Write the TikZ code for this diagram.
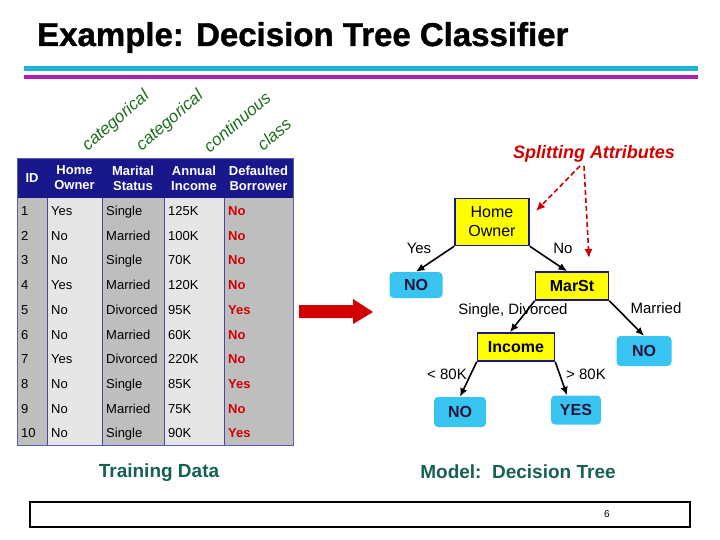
\documentclass[tikz,border=0pt]{standalone}
\usepackage{fontspec}
\setmainfont{Liberation Sans}
\newfontfamily\titlefont[FakeBold=1.2]{Liberation Sans}
\usetikzlibrary{arrows.meta,calc}
\definecolor{DTnavy}{RGB}{24,24,140}
\definecolor{DTcyan}{RGB}{56,196,240}
\definecolor{DTyellow}{RGB}{255,255,0}
\definecolor{DTred}{RGB}{210,0,0}
\definecolor{DTgreen}{RGB}{26,110,26}
\definecolor{DTteal}{RGB}{22,96,84}
\definecolor{DTgray}{RGB}{190,190,190}
\definecolor{DTlight}{RGB}{230,230,230}
\definecolor{DTline}{RGB}{32,180,214}
\definecolor{DTmag}{RGB}{176,30,176}
\definecolor{DTleaf}{RGB}{40,20,60}
\tikzset{
  attr/.style={rectangle,draw=DTnavy,line width=1.6pt,fill=DTyellow,align=center,
               inner sep=2pt,font=\fontsize{16}{19}\selectfont,minimum height=28pt},
  leaf/.style={rounded corners=4pt,fill=DTcyan,text=DTleaf,inner sep=2pt,
               font=\bfseries\fontsize{16}{16}\selectfont,minimum width=53pt,minimum height=29pt},
  br/.style={font=\fontsize{15}{15}\selectfont,inner sep=1pt},
  ed/.style={-{Latex[length=8.5pt,width=7.5pt]},line width=1.6pt},
  spl/.style={-{Latex[length=9pt,width=8pt]},line width=1.6pt,draw=DTred,dash pattern=on 5pt off 3pt},
  kind/.style={font=\itshape\fontsize{17}{17}\selectfont,text=DTgreen,rotate=41,inner sep=0pt},
  cell/.style={anchor=base west,font=\fontsize{13}{13}\selectfont,inner sep=0pt},
  hcell/.style={font=\bfseries\fontsize{13}{15}\selectfont,text=white,align=center,inner sep=0pt},
  caption/.style={font=\bfseries\fontsize{19}{19}\selectfont,text=DTteal}
}
\begin{document}
\begin{tikzpicture}[x=1pt,y=-1pt]
  \useasboundingbox (0,0) rectangle (720,540);
  \node[anchor=base west,inner sep=0pt,font=\titlefont\bfseries\fontsize{33}{33}\selectfont] (title) at (37,46) {Example: Decision Tree Classifier};
  \draw[DTline,line width=5pt] (24,68.5) -- (698,68.5);
  \draw[DTmag,line width=4pt] (24,77) -- (698,77);

  \node[kind] (k1) at (116,121) {categorical};
  \node[kind] (k2) at (170,121) {categorical};
  \node[kind] (k3) at (237,122) {continuous};
  \node[kind] (k4) at (274,134) {class};

  % training table
  \fill[DTgray] (17,198) rectangle (47,445);
  \fill[DTlight] (47,198) rectangle (102,445);
  \fill[DTgray] (102,198) rectangle (164,445);
  \fill[DTlight] (164,198) rectangle (224,445);
  \fill[DTgray] (224,198) rectangle (293,445);
  \fill[DTnavy] (17,158) rectangle (293,198);
  \foreach \x in {47,102,164,224}
    \draw[DTnavy!80,line width=0.8pt] (\x,198) -- (\x,445);
  \draw[DTnavy!70,line width=0.8pt] (17,158) rectangle (293,445);
  \node[hcell] (hid) at (32,178) {ID};
  \node[hcell] (hho) at (74.5,178) {Home\\Owner};
  \node[hcell] (hms) at (133,178) {Marital\\Status};
  \node[hcell] (hinc) at (194,178) {Annual\\Income};
  \node[hcell] (hcl) at (258.5,178) {Defaulted\\Borrower};
  \foreach \i/\ho/\ms/\inc/\cl in {1/Yes/Single/125K/No,2/No/Married/100K/No,3/No/Single/70K/No,
      4/Yes/Married/120K/No,5/No/Divorced/95K/Yes,6/No/Married/60K/No,7/Yes/Divorced/220K/No,
      8/No/Single/85K/Yes,9/No/Married/75K/No,10/No/Single/90K/Yes}{
    \pgfmathsetmacro{\ry}{215.5+(\i-1)*24.7}
    \node[cell] (id\i) at (21,\ry) {\i};
    \node[cell] (ho\i) at (51,\ry) {\ho};
    \node[cell] (ms\i) at (106,\ry) {\ms};
    \node[cell] (inc\i) at (168,\ry) {\inc};
    \node[cell,text=DTred,font=\bfseries\fontsize{13}{13}\selectfont] (cl\i) at (228,\ry) {\cl};
  }
  \node[caption] (train) at (159,473) {Training Data};

  \fill[DTred] (299,305) -- (353,305) -- (353,299) -- (373,312) -- (353,324) -- (353,318) -- (299,318) -- cycle;

  % decision tree
  \node[attr,minimum width=74pt,minimum height=47pt] (home) at (492,222) {Home\\Owner};
  \node[leaf,minimum height=26pt] (noA) at (416,285) {NO};
  \node[attr,minimum width=73pt,font=\bfseries\fontsize{16}{16}\selectfont] (mar) at (572,286) {MarSt};
  \node[attr,minimum width=77pt,font=\bfseries\fontsize{16}{16}\selectfont] (inc) at (516,347) {Income};
  \node[leaf,minimum width=55pt,minimum height=30pt] (noB) at (644,351) {NO};
  \node[leaf,minimum width=52pt,minimum height=30pt] (noC) at (460,412) {NO};
  \node[leaf,minimum width=50pt] (yes) at (576,410) {YES};

  \draw[ed] (home.south west) -- (noA.north);
  \draw[ed] (home.south east) -- ([xshift=-5pt]mar.north);
  \draw[ed] (mar.south west) -- ([xshift=-6pt]inc.north);
  \draw[ed] (mar.south east) -- (noB.north);
  \draw[ed] (inc.south west) -- (noC.north);
  \draw[ed] (inc.south east) -- ([xshift=-9pt]yes.north);

  \node[br] (lyes) at (419,248) {Yes};
  \node[br] (lno) at (563,248) {No};
  \node[br] (lsd) at (513,311) {Single, Divorced};
  \node[br] (lmar) at (656,308) {Married};
  \node[br] (llt) at (447,374) {< 80K};
  \node[br] (lgt) at (586,374) {> 80K};

  \node[text=DTred,font=\bfseries\itshape\fontsize{18}{18}\selectfont] (split) at (594,154) {Splitting Attributes};
  \coordinate (sa1) at (536,211);
  \coordinate (sa2) at (589,258);
  \draw[spl] ([xshift=-14pt]split.south) -- (sa1);
  \draw[spl] ([xshift=-10pt]split.south) -- (sa2);
  \node[caption] (model) at (518,472) {Model:\ \ Decision Tree};

  \draw[line width=2pt] (30,502) rectangle (690,527);
  \node[font=\fontsize{10}{10}\selectfont] (page) at (607,514) {6};
\end{tikzpicture}
\end{document}
